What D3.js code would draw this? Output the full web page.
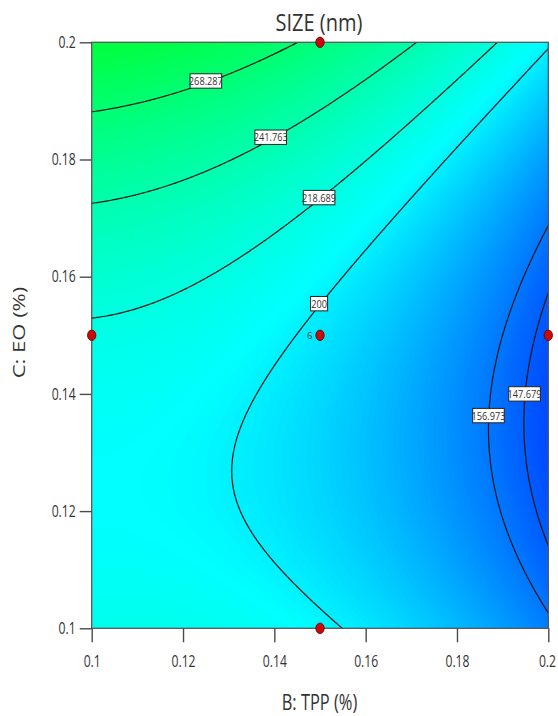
<!DOCTYPE html>
<html>
<head>
<meta charset="utf-8">
<script src="https://cdn.jsdelivr.net/npm/d3@7"></script>
<style>
  html, body { margin: 0; padding: 0; background: #ffffff; }
  svg { display: block; }
  text { font-family: "Open Sans", "Noto Sans", sans-serif; fill: #333333; }
</style>
</head>
<body>
<svg id="chart" width="558" height="716"></svg>
<script>
// ---------------- data ----------------
const chartTitle = "SIZE (nm)";
const xTitle = "B: TPP (%)";
const yTitle = "C: EO (%)";
const bDomain = [0.1, 0.2];
const cDomain = [0.1, 0.2];
const tickValues = [0.1, 0.12, 0.14, 0.16, 0.18, 0.2];
const tickLabels = ["0.1", "0.12", "0.14", "0.16", "0.18", "0.2"];
// quadratic response surface (coded factors b, c in [-1, 1]), estimated from the plotted contours
const coefTerms = ["1", "b", "c", "bc", "b2", "c2"];
const coefValues = [196.38, -36.20, 30.62, -9.42, -16.36, 37.00];
// contour levels shown
const contourLevels = [147.679, 156.973, 200, 218.689, 241.763, 268.287];
const contourLabels = ["147.679", "156.973", "200", "218.689", "241.763", "268.287"];
// design points
const designB = [0.15, 0.10, 0.15, 0.20, 0.15];
const designC = [0.20, 0.15, 0.15, 0.15, 0.10];
const designRuns = [1, 1, 6, 1, 1];

// ---------------- layout ----------------
const plot = { left: 91.7, right: 548.3, top: 42.3, bottom: 628.3 };
// contour label anchors (factor units)
const labelAnchorB = [0.1948, 0.1869, 0.1498, 0.1498, 0.1392, 0.1250];
const labelAnchorC = [0.1400, 0.1363, 0.1554, 0.1735, 0.1838, 0.1934];

const svg = d3.select("#chart");
const x = d3.scaleLinear().domain(bDomain).range([plot.left, plot.right]);
const y = d3.scaleLinear().domain(cDomain).range([plot.bottom, plot.top]);

function model(B, C) {
  const b = (B - 0.15) / 0.05, c = (C - 0.15) / 0.05;
  const t = { "1": 1, b: b, c: c, bc: b * c, b2: b * b, c2: c * c };
  let s = 0;
  coefTerms.forEach((k, i) => { s += coefValues[i] * t[k]; });
  return s;
}

const color = d3.scaleLinear()
  .domain([115, 205, 320])
  .range(["#0000ff", "#00ffff", "#00ff00"])
  .clamp(true);

svg.append("defs").append("clipPath").attr("id", "plotclip")
  .append("rect")
  .attr("x", plot.left).attr("y", plot.top)
  .attr("width", plot.right - plot.left).attr("height", plot.bottom - plot.top);

function buildGrid(nx, ny) {
  const dB = (bDomain[1] - bDomain[0]) / (nx - 4);
  const dC = (cDomain[1] - cDomain[0]) / (ny - 4);
  const B0 = bDomain[0] - 2 * dB;
  const C1 = cDomain[1] + 2 * dC;
  const values = new Float64Array(nx * ny);
  for (let j = 0; j < ny; j++) {
    const C = C1 - (j + 0.5) * dC;
    for (let i = 0; i < nx; i++) {
      const B = B0 + (i + 0.5) * dB;
      values[i + j * nx] = model(B, C);
    }
  }
  const proj = d3.geoTransform({
    point: function (u, v) { this.stream.point(x(B0 + u * dB), y(C1 - v * dC)); }
  });
  return { nx, ny, values, path: d3.geoPath(proj) };
}

// filled colour bands
const gFill = buildGrid(120, 150);
const fillThresholds = d3.range(100, 330, 1);
const bands = d3.contours().size([gFill.nx, gFill.ny]).thresholds(fillThresholds)(gFill.values);
const gBands = svg.append("g").attr("clip-path", "url(#plotclip)");
gBands.append("rect")
  .attr("x", plot.left).attr("y", plot.top)
  .attr("width", plot.right - plot.left).attr("height", plot.bottom - plot.top)
  .attr("fill", color(100));
gBands.selectAll("path").data(bands).join("path")
  .attr("d", gFill.path)
  .attr("fill", d => color(d.value + 0.5))
  .attr("stroke", d => color(d.value + 0.5))
  .attr("stroke-width", 0.6);

// contour lines
const gLine = buildGrid(300, 380);
const lines = d3.contours().size([gLine.nx, gLine.ny]).thresholds(contourLevels)(gLine.values);
svg.append("g").attr("clip-path", "url(#plotclip)")
  .selectAll("path").data(lines).join("path")
  .attr("d", gLine.path)
  .attr("fill", "none")
  .attr("stroke", "#141414")
  .attr("stroke-width", 1.2);

// border
svg.append("rect")
  .attr("x", plot.left).attr("y", plot.top)
  .attr("width", plot.right - plot.left).attr("height", plot.bottom - plot.top)
  .attr("fill", "none").attr("stroke", "#5a5a5a").attr("stroke-width", 1.3);

function squish(sel, f) {
  sel.each(function () {
    const w = this.getComputedTextLength();
    d3.select(this).attr("textLength", w * f).attr("lengthAdjust", "spacingAndGlyphs");
  });
}

// axes
const fmt = v => tickLabels[tickValues.findIndex(t => Math.abs(t - v) < 1e-9)];
const xAxis = svg.append("g").attr("transform", `translate(0,${plot.bottom})`)
  .call(d3.axisBottom(x).tickValues(tickValues).tickFormat(fmt).tickSize(14).tickPadding(13));
const yAxis = svg.append("g").attr("transform", `translate(${plot.left},0)`)
  .call(d3.axisLeft(y).tickValues(tickValues).tickFormat(fmt).tickSize(12).tickPadding(4));
[xAxis, yAxis].forEach(a => {
  a.select(".domain").remove();
  a.selectAll(".tick line").attr("stroke", "#4a4a4a").attr("stroke-width", 1.4);
  a.selectAll(".tick text").attr("font-size", 16).attr("fill", "#333")
    .style("font-family", '"Open Sans", sans-serif');
});
squish(yAxis.selectAll(".tick text"), 0.76);
// x labels: horizontal compression via transform (keeps bounding boxes exact)
xAxis.selectAll(".tick text").attr("transform", "scale(0.76,1)");
// keep the last x label inside the frame
xAxis.selectAll(".tick text").filter(d => d === bDomain[1])
  .attr("text-anchor", "end").attr("x", 9.5);

// titles
const tTitle = svg.append("text").attr("x", 319).attr("y", 30.5)
  .attr("text-anchor", "middle").attr("font-size", 24).text(chartTitle);
tTitle.attr("textLength", 87).attr("lengthAdjust", "spacingAndGlyphs");
svg.append("text").attr("x", 319.5).attr("y", 710)
  .attr("text-anchor", "middle").attr("font-size", 21).text(xTitle)
  .attr("textLength", 75.6).attr("lengthAdjust", "spacingAndGlyphs");
svg.append("text").attr("transform", "translate(25,332.5) rotate(-90)")
  .attr("text-anchor", "middle").attr("font-size", 16).text(yTitle)
  .attr("textLength", 91.6).attr("lengthAdjust", "spacingAndGlyphs");

// contour labels
const gLab = svg.append("g");
contourLabels.forEach((lab, i) => {
  const cx = x(labelAnchorB[i]), cy = y(labelAnchorC[i]);
  const g = gLab.append("g").attr("transform", `translate(${cx},${cy})`);
  const r = g.append("rect").attr("fill", "#ffffff").attr("stroke", "#222").attr("stroke-width", 1);
  const t = g.append("text").attr("text-anchor", "middle").attr("y", 4)
    .attr("font-size", 11.5).attr("fill", "#111").text(lab);
  squish(t, 0.8);
  const w = t.node().getComputedTextLength() * 0.8;
  r.attr("x", -w / 2 - 2.2).attr("y", -7.2).attr("width", w + 4.4).attr("height", 14.4);
});

// design points
const gPts = svg.append("g");
designB.forEach((b, i) => {
  gPts.append("ellipse")
    .attr("cx", x(b)).attr("cy", y(designC[i]))
    .attr("rx", 4.2).attr("ry", 5.2)
    .attr("fill", "#c80a0a").attr("stroke", "#5a0000").attr("stroke-width", 0.8);
  if (designRuns[i] > 1) {
    gPts.append("text").attr("x", x(b) - 7.5).attr("y", y(designC[i]) + 3.3)
      .attr("text-anchor", "end").attr("font-size", 9.5).attr("fill", "#222")
      .text(designRuns[i]);
  }
});
</script>
</body>
</html>
